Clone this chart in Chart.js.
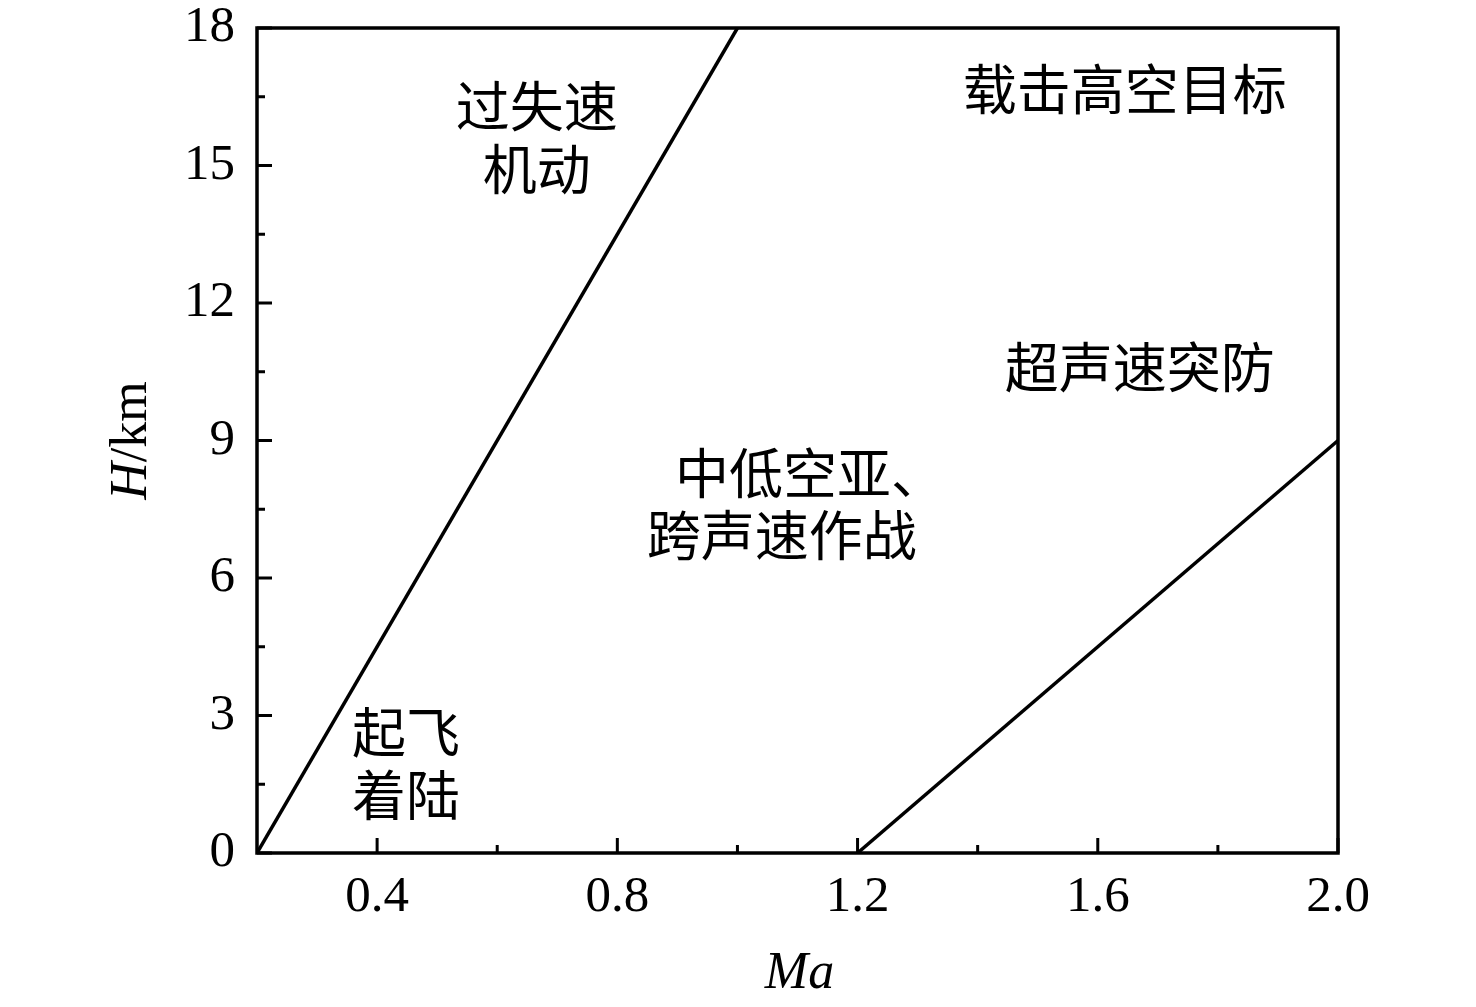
<!DOCTYPE html>
<html>
<head>
<meta charset="utf-8">
<script src="https://cdn.jsdelivr.net/npm/chart.js@4"></script>
<style>
  html, body { margin: 0; padding: 0; background: #fff; }
  #wrap { width: 1476px; height: 1007px; }
</style>
</head>
<body>
<div id="wrap"><canvas id="c"></canvas></div>
<script>
// boundary lines of the flight regions (Ma, H in km)
const stallLine = [[0.2, 0], [1.0, 18]];
const supersonicLine = [[1.2, 0], [2.0, 9]];

const xTicks = [0.4, 0.8, 1.2, 1.6, 2.0];
const xMinor = [0.6, 1.0, 1.4, 1.8];
const yTicks = [0, 3, 6, 9, 12, 15, 18];
const yMinor = [1.5, 4.5, 7.5, 10.5, 13.5, 16.5];

// region labels: text, Ma, H, alignment
const regionText = ["过失速", "机动", "载击高空目标", "超声速突防", "中低空亚、", "跨声速作战", "起飞", "着陆"];
const regionMa = [0.666, 0.666, 1.645, 1.67, 0.896, 0.849, 0.358, 0.358];
const regionH = [16.15, 14.77, 16.52, 10.45, 8.15, 6.79, 2.49, 1.11];
const regionAlign = ["center", "center", "center", "center", "left", "left", "left", "left"];

const serif = '"Liberation Serif", "Times New Roman", serif';
const cjk = '"Liberation Serif", "Noto Sans CJK SC", serif';

const frame = {
  id: "frame",
  afterDatasetsDraw(chart) {
    const { ctx, chartArea: a, scales: { x, y } } = chart;
    ctx.save();
    ctx.strokeStyle = "#000";
    ctx.lineWidth = 3.5;
    ctx.strokeRect(a.left, a.top, a.right - a.left, a.bottom - a.top);

    // inward ticks on bottom and left only
    ctx.lineWidth = 3;
    ctx.beginPath();
    xTicks.forEach(v => { const px = x.getPixelForValue(v); ctx.moveTo(px, a.bottom); ctx.lineTo(px, a.bottom - 15); });
    xMinor.forEach(v => { const px = x.getPixelForValue(v); ctx.moveTo(px, a.bottom); ctx.lineTo(px, a.bottom - 8); });
    yTicks.forEach(v => { const py = y.getPixelForValue(v); ctx.moveTo(a.left, py); ctx.lineTo(a.left + 15, py); });
    yMinor.forEach(v => { const py = y.getPixelForValue(v); ctx.moveTo(a.left, py); ctx.lineTo(a.left + 8, py); });
    ctx.stroke();

    // region labels
    ctx.fillStyle = "#000";
    ctx.font = "54px " + cjk;
    ctx.textBaseline = "middle";
    regionText.forEach((t, i) => {
      ctx.textAlign = regionAlign[i];
      ctx.fillText(t, x.getPixelForValue(regionMa[i]), y.getPixelForValue(regionH[i]));
    });

    // axis titles
    ctx.textBaseline = "alphabetic";
    ctx.textAlign = "left";
    ctx.font = "italic 52px " + serif;
    const maW = ctx.measureText("Ma").width;
    ctx.fillText("Ma", (a.left + a.right) / 2 - maW / 2 + 2, 988);

    ctx.translate(146, (a.top + a.bottom) / 2);
    ctx.rotate(-Math.PI / 2);
    ctx.font = "italic 52px " + serif;
    const hW = ctx.measureText("H").width;
    ctx.font = "52px " + serif;
    const kmW = ctx.measureText("/km").width;
    const start = -(hW + kmW) / 2;
    ctx.font = "italic 52px " + serif;
    ctx.fillText("H", start, 0);
    ctx.font = "52px " + serif;
    ctx.fillText("/km", start + hW, 0);
    ctx.restore();
  }
};

const toPts = arr => arr.map(p => ({ x: p[0], y: p[1] }));

new Chart(document.getElementById("c"), {
  type: "scatter",
  data: {
    datasets: [
      { data: toPts(stallLine), showLine: true, borderColor: "#000", borderWidth: 3.5, pointRadius: 0 },
      { data: toPts(supersonicLine), showLine: true, borderColor: "#000", borderWidth: 3.5, pointRadius: 0 }
    ]
  },
  options: {
    responsive: true,
    maintainAspectRatio: false,
    animation: false,
    layout: { padding: { top: 28, right: 138, left: 0, bottom: 0 } },
    plugins: { legend: { display: false }, tooltip: { enabled: false } },
    scales: {
      x: {
        type: "linear",
        min: 0.2,
        max: 2.0,
        afterBuildTicks: s => { s.ticks = xTicks.map(v => ({ value: v })); },
        afterFit: s => { s.height = 154; s.paddingLeft = 0; s.paddingRight = 0; },
        grid: { display: false, drawTicks: false },
        border: { display: false },
        ticks: {
          color: "#000",
          padding: 14,
          font: { family: serif, size: 51 },
          callback: v => v.toFixed(1)
        }
      },
      y: {
        type: "linear",
        min: 0,
        max: 18,
        afterBuildTicks: s => { s.ticks = yTicks.map(v => ({ value: v })); },
        afterFit: s => { s.width = 257; s.paddingTop = 0; s.paddingBottom = 0; },
        grid: { display: false, drawTicks: false },
        border: { display: false },
        ticks: {
          color: "#000",
          padding: 22,
          font: { family: serif, size: 51 },
          callback: v => String(v)
        }
      }
    }
  },
  plugins: [frame]
});
</script>
</body>
</html>
